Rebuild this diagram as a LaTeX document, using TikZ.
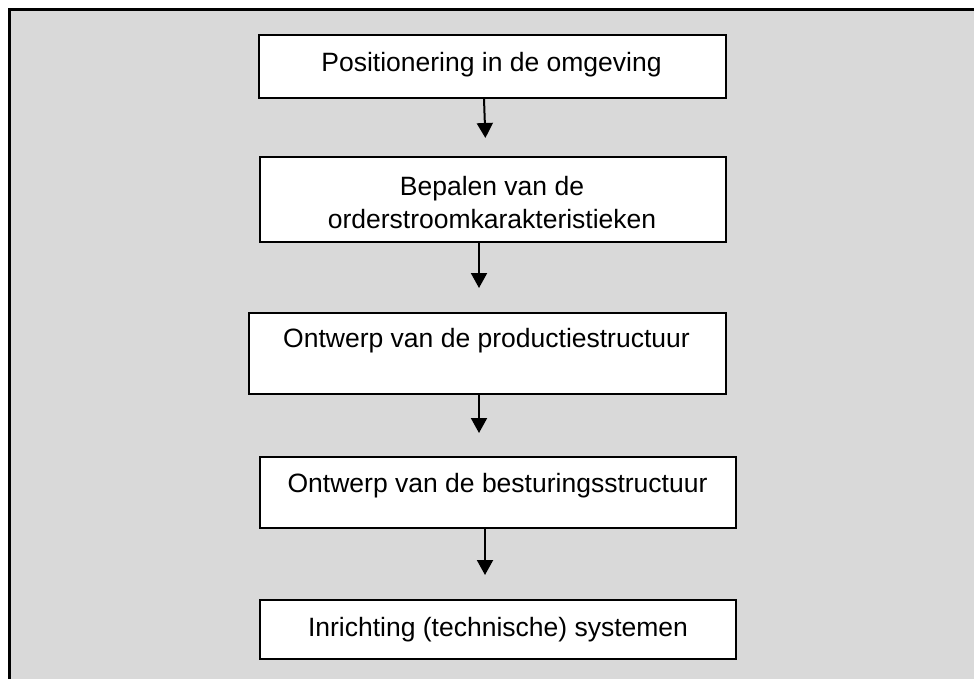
\documentclass[tikz,border=0pt]{standalone}
\usepackage{fontspec}
\setmainfont{Liberation Sans}
\usetikzlibrary{arrows.meta}
\definecolor{panelgrey}{HTML}{D9D9D9}
\begin{document}
\begin{tikzpicture}[x=1pt,y=-1pt,
  stepbox/.style={draw=black, line width=2pt, fill=white, inner sep=0pt, anchor=north west},
  steptext/.style={anchor=base, inner sep=0pt, font=\fontsize{26.5}{32}\selectfont},
  flow/.style={line width=2pt, -{Triangle[width=16pt,length=15pt]}}]

% page area and panel frame (open on the right and bottom)
\path[use as bounding box, clip] (0,0) rectangle (974,679);
\fill[white] (0,0) rectangle (974,679);
\fill[panelgrey] (9.5,9.5) rectangle (990,690);
\draw[line width=3pt] (990,9.5) -- (9.5,9.5) -- (9.5,690);

% process steps
\node[stepbox, minimum width=467pt, minimum height=63pt] (b1) at (258,34) {};
\node[stepbox, minimum width=466pt, minimum height=85pt] (b2) at (259,156) {};
\node[stepbox, minimum width=477pt, minimum height=81pt] (b3) at (248,312) {};
\node[stepbox, minimum width=476pt, minimum height=71pt] (b4) at (259,456) {};
\node[stepbox, minimum width=476pt, minimum height=59pt] (b5) at (259,599) {};

% step labels
\node[steptext] (t1) at (491.5,71.5) {Positionering in de omgeving};
\node[steptext] (t2a) at (492,196) {Bepalen van de};
\node[steptext] (t2b) at (492,229) {orderstroomkarakteristieken};
\node[steptext] (t3) at (486.5,347) {Ontwerp van de productiestructuur};
\node[steptext] (t4) at (497.5,492) {Ontwerp van de besturingsstructuur};
\node[steptext] (t5) at (498,636) {Inrichting (technische) systemen};

% flow arrows
\draw[flow, shorten >=18pt] (484,0 |- b1.south) -- (486,0 |- b2.north);
\draw[flow, shorten >=24pt] (479,0 |- b2.south) -- (479,0 |- b3.north);
\draw[flow, shorten >=23pt] (479,0 |- b3.south) -- (479,0 |- b4.north);
\draw[flow, shorten >=24pt] (485,0 |- b4.south) -- (485,0 |- b5.north);
\end{tikzpicture}
\end{document}
